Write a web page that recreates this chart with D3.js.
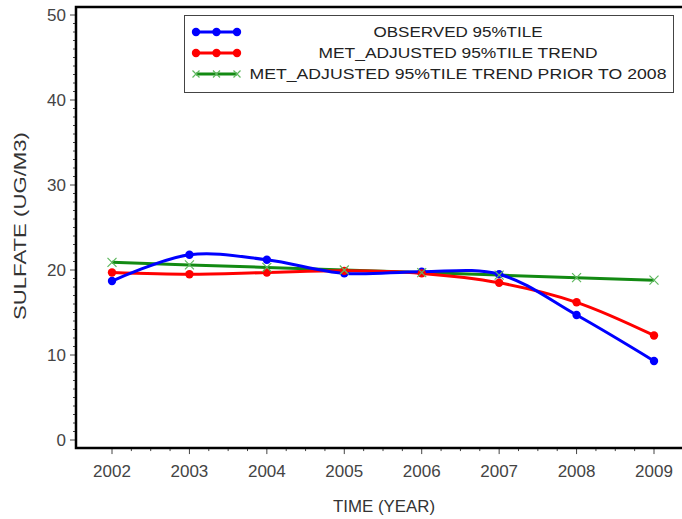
<!DOCTYPE html>
<html><head><meta charset="utf-8">
<script src="https://cdn.jsdelivr.net/npm/d3@7"></script>
<style>body{margin:0;background:#fff;} svg{display:block;font-family:"Liberation Sans",Arial,sans-serif;}</style>
</head><body>
<script>
const years = [2002, 2003, 2004, 2005, 2006, 2007, 2008, 2009];
const observed = [18.7, 21.8, 21.2, 19.6, 19.8, 19.5, 14.7, 9.3];
const metAdjusted = [19.7, 19.5, 19.7, 19.9, 19.6, 18.5, 16.2, 12.3];
const priorTrend = [20.9, 20.6, 20.3, 20.0, 19.7, 19.4, 19.1, 18.8];
const yTicks = [0, 10, 20, 30, 40, 50];
const legendLabels = ["OBSERVED 95%TILE", "MET_ADJUSTED 95%TILE TREND", "MET_ADJUSTED 95%TILE TREND PRIOR TO 2008"];

const W = 682, H = 519;
const svg = d3.select("body").append("svg").attr("width", W).attr("height", H);

const x = d3.scaleLinear().domain([2002, 2009]).range([112, 654]);
const y = d3.scaleLinear().domain([0, 50]).range([440, 15]);
const frameLeft = x(2001.535), frameTop = y(50.95), frameBottom = y(-0.95);

// y axis ticks
const yMinor = d3.range(0, 51, 1);
svg.append("g").selectAll("line").data(yMinor).join("line")
  .attr("x1", frameLeft).attr("x2", d => frameLeft - (d % 10 === 0 ? 6 : 3))
  .attr("y1", d => y(d)).attr("y2", d => y(d))
  .attr("stroke", "#444").attr("stroke-width", 1);
svg.append("g").selectAll("text").data(yTicks).join("text")
  .attr("x", frameLeft - 10).attr("y", d => y(d)).attr("dy", "0.36em")
  .attr("text-anchor", "end").attr("font-size", 17).attr("fill", "#444")
  .text(d => d);

// x axis ticks
const xMinor = d3.range(2002, 2009.01, 0.25);
svg.append("g").selectAll("line").data(xMinor).join("line")
  .attr("x1", d => x(d)).attr("x2", d => x(d))
  .attr("y1", frameBottom).attr("y2", d => frameBottom + (Math.abs(d - Math.round(d)) < 1e-6 ? 6 : 3))
  .attr("stroke", "#444").attr("stroke-width", 1);
svg.append("g").selectAll("text").data(years).join("text")
  .attr("x", d => x(d)).attr("y", frameBottom + 29)
  .attr("text-anchor", "middle").attr("font-size", 17).attr("fill", "#444")
  .text(d => d);

// frame
svg.append("path")
  .attr("d", `M${W + 5},${frameTop}H${frameLeft}V${frameBottom}H${W + 5}`)
  .attr("fill", "none").attr("stroke", "#000").attr("stroke-width", 2.5);

// axis titles
svg.append("text").attr("x", 384).attr("y", 512).attr("text-anchor", "middle")
  .attr("font-size", 16).attr("fill", "#333")
  .attr("textLength", 102).attr("lengthAdjust", "spacingAndGlyphs").text("TIME (YEAR)");
svg.append("text").attr("transform", "translate(26,226) rotate(-90)").attr("text-anchor", "middle")
  .attr("font-size", 16.5).attr("fill", "#333")
  .attr("textLength", 188).attr("lengthAdjust", "spacingAndGlyphs").text("SULFATE (UG/M3)");

// series
const series = [
  {vals: observed, color: "#0000ff", curve: d3.curveCatmullRom, marker: "dot"},
  {vals: metAdjusted, color: "#ff0000", curve: d3.curveCatmullRom, marker: "dot"},
  {vals: priorTrend, color: "#138a13", curve: d3.curveLinear, marker: "x"}
];
const plot = svg.append("g");
[2, 1, 0].forEach(i => {
  const s = series[i];
  const line = d3.line().x((d, j) => x(years[j])).y(d => y(d)).curve(s.curve);
  plot.append("path").attr("d", line(s.vals)).attr("fill", "none")
    .attr("stroke", s.color).attr("stroke-width", 3).attr("stroke-linejoin", "round");
});
[0, 1].forEach(i => {
  const s = series[i];
  plot.append("g").selectAll("circle").data(s.vals).join("circle")
    .attr("cx", (d, j) => x(years[j])).attr("cy", d => y(d)).attr("r", 4.2).attr("fill", s.color);
});
plot.append("g").selectAll("path").data(priorTrend).join("path")
  .attr("d", (d, j) => { const cx = x(years[j]), cy = y(d), r = 4.5;
    return `M${cx - r},${cy - r}L${cx + r},${cy + r}M${cx - r},${cy + r}L${cx + r},${cy - r}`; })
  .attr("stroke", "#5fb85f").attr("stroke-width", 1.2);

// legend
const lg = svg.append("g");
lg.append("rect").attr("x", 184.5).attr("y", 15.5).attr("width", 489).attr("height", 77)
  .attr("fill", "#fff").attr("stroke", "#444").attr("stroke-width", 1);
const rowY = [32, 53, 74];
const textLen = [169, 279, 417];
series.forEach((s, i) => {
  const yy = rowY[i];
  lg.append("line").attr("x1", 196).attr("x2", 237).attr("y1", yy).attr("y2", yy)
    .attr("stroke", s.color).attr("stroke-width", 3);
  [196, 216.5, 237].forEach(cx => {
    if (s.marker === "dot") {
      lg.append("circle").attr("cx", cx).attr("cy", yy).attr("r", 4.2).attr("fill", s.color);
    } else {
      const r = 3.5;
      lg.append("path").attr("d", `M${cx - r},${yy - r}L${cx + r},${yy + r}M${cx - r},${yy + r}L${cx + r},${yy - r}`)
        .attr("stroke", "#5fb85f").attr("stroke-width", 1.2);
    }
  });
  lg.append("text").attr("x", 458).attr("y", yy).attr("dy", "0.36em").attr("text-anchor", "middle")
    .attr("font-size", 15).attr("fill", "#222")
    .attr("textLength", textLen[i]).attr("lengthAdjust", "spacingAndGlyphs")
    .text(legendLabels[i]);
});
</script>
</body></html>
